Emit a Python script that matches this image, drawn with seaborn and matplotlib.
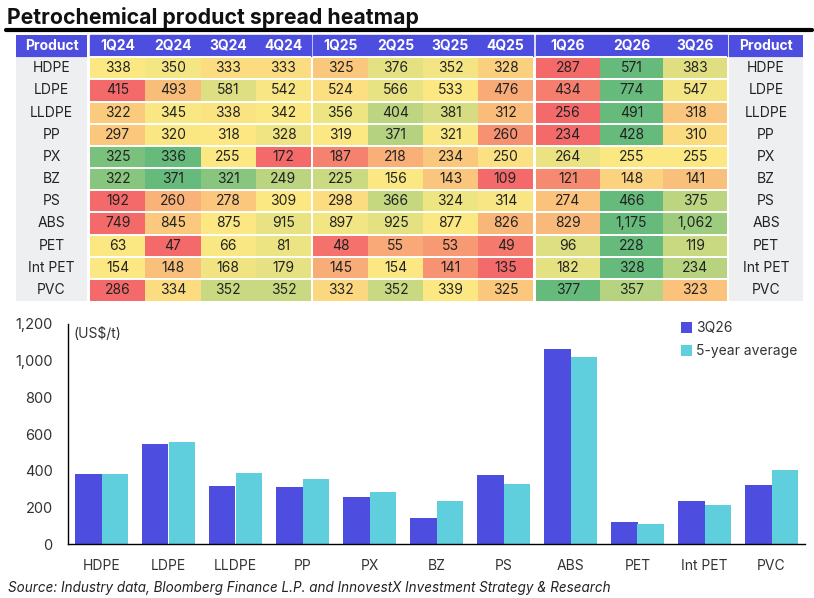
import numpy as np
import pandas as pd
import matplotlib
matplotlib.use("Agg")
import matplotlib.pyplot as plt
from matplotlib.colors import LinearSegmentedColormap
from matplotlib.patches import Rectangle
from matplotlib.ticker import FuncFormatter, FixedLocator
import seaborn as sns

# data
products = ["HDPE", "LDPE", "LLDPE", "PP", "PX", "BZ", "PS", "ABS", "PET", "Int PET", "PVC"]
quarters_24 = ["1Q24", "2Q24", "3Q24", "4Q24"]
quarters_25 = ["1Q25", "2Q25", "3Q25", "4Q25"]
quarters_26 = ["1Q26", "2Q26", "3Q26"]
spread_24 = [
    [338, 350, 333, 333], [415, 493, 581, 542], [322, 345, 338, 342], [297, 320, 318, 328],
    [325, 336, 255, 172], [322, 371, 321, 249], [192, 260, 278, 309], [749, 845, 875, 915],
    [63, 47, 66, 81], [154, 148, 168, 179], [286, 334, 352, 352],
]
spread_25 = [
    [325, 376, 352, 328], [524, 566, 533, 476], [356, 404, 381, 312], [319, 371, 321, 260],
    [187, 218, 234, 250], [225, 156, 143, 109], [298, 366, 324, 314], [897, 925, 877, 826],
    [48, 55, 53, 49], [145, 154, 141, 135], [332, 352, 339, 325],
]
spread_26 = [
    [287, 571, 383], [434, 774, 547], [256, 491, 318], [234, 428, 310],
    [264, 255, 255], [121, 148, 141], [274, 466, 375], [829, 1175, 1062],
    [96, 228, 119], [182, 328, 234], [377, 357, 323],
]
avg_5y = [382, 558, 385, 357, 282, 234, 328, 1020, 110, 212, 405]

BLUE = "#4D4DDF"
CYAN = "#5FCEDD"
GRAY_BG = "#EEEFF1"
TXT = "#222222"

sns.set_style("white")
plt.rcParams["font.family"] = ["Inter", "DejaVu Sans"]

W, H = 814, 598
fig = plt.figure(figsize=(W / 100, H / 100), dpi=100)


def px_axes(x0, y0, x1, y1):
    return fig.add_axes([x0 / W, 1 - y1 / H, (x1 - x0) / W, (y1 - y0) / H])


# per-row colour scaling: min -> red, median -> yellow, max -> green
full = np.hstack([np.array(spread_24), np.array(spread_25), np.array(spread_26)]).astype(float)
rmin = full.min(axis=1, keepdims=True)
rmax = full.max(axis=1, keepdims=True)
rmed = np.median(full, axis=1, keepdims=True)
low = 0.5 * (full - rmin) / np.where(rmed - rmin == 0, 1, rmed - rmin)
high = 0.5 + 0.5 * (full - rmed) / np.where(rmax - rmed == 0, 1, rmax - rmed)
scaled = np.where(full < rmed, low, high)
cmap = LinearSegmentedColormap.from_list("ryg", ["#F46A6A", "#FCE883", "#66BB7C"])

T_TOP, T_BOT = 35, 301
groups = [
    (quarters_24, 0, 90, 311),
    (quarters_25, 4, 313, 533),
    (quarters_26, 8, 536, 727),
]
for cols, start, x0, x1 in groups:
    ax = px_axes(x0, T_TOP, x1, T_BOT)
    vals = full[:, start:start + len(cols)]
    df = pd.DataFrame(scaled[:, start:start + len(cols)], index=products, columns=cols)
    labels = np.vectorize(lambda v: f"{int(v):,}")(vals)
    sns.heatmap(df, ax=ax, cmap=cmap, vmin=0, vmax=1, cbar=False, annot=labels, fmt="",
                annot_kws={"fontsize": 10, "color": TXT}, linewidths=0)
    ax.set_ylim(len(products), -1)
    ax.add_patch(Rectangle((0, -1), len(cols), 0.95, color=BLUE, clip_on=False))
    for j, q in enumerate(cols):
        ax.text(j + 0.5, -0.52, q, ha="center", va="center", color="white",
                fontsize=10, fontweight="bold")
    for r in range(len(products)):
        ax.axhline(r, color="white", lw=1.4)
    ax.set_xticks([])
    ax.set_yticks([])
    ax.set_xlabel("")
    ax.set_ylabel("")

for x0, x1 in [(16, 87), (729, 803)]:
    ax = px_axes(x0, T_TOP, x1, T_BOT)
    ax.set_xlim(0, 1)
    ax.set_ylim(len(products), -1)
    ax.add_patch(Rectangle((0, -1), 1, 0.95, color=BLUE))
    ax.add_patch(Rectangle((0, 0.03), 1, len(products), color=GRAY_BG))
    ax.text(0.5, -0.52, "Product", ha="center", va="center", color="white",
            fontsize=10, fontweight="bold")
    for r, p in enumerate(products):
        ax.text(0.5, r + 0.5, p, ha="center", va="center", color=TXT, fontsize=10)
    ax.axis("off")

# title and rule
fig.text(7 / W, 1 - 17 / H, "Petrochemical product spread heatmap", fontsize=15.3,
         fontweight="bold", ha="left", va="center", color="#111111")
fig.add_artist(plt.Line2D([6 / W, 812 / W], [1 - 30 / H, 1 - 30 / H], color="black", lw=3))

# bar chart
bx = px_axes(68, 324, 805, 544)
bars = pd.DataFrame({
    "product": products * 2,
    "value": [row[-1] for row in spread_26] + avg_5y,
    "series": ["3Q26"] * len(products) + ["5-year average"] * len(products),
})
sns.barplot(data=bars, x="product", y="value", hue="series", ax=bx,
            palette=[BLUE, CYAN], width=0.8, gap=0, saturation=1, edgecolor="none")
bx.set_ylim(0, 1200)
bx.set_xlim(-0.5, len(products) - 0.5)
bx.set_yticks(range(0, 1201, 200))
bx.yaxis.set_major_formatter(FuncFormatter(lambda v, _: f"{int(v):,}"))
bx.xaxis.set_minor_locator(FixedLocator(np.arange(-0.5, len(products), 1)))
bx.tick_params(axis="x", which="major", length=0, labelsize=10, labelcolor="#333333", pad=11)
bx.tick_params(axis="x", which="minor", length=5, width=1, color="black", direction="out")
bx.tick_params(axis="y", length=5, width=1, color="black", direction="out",
               labelsize=10.5, labelcolor="#333333", pad=6)
bx.set_xlabel("")
bx.set_ylabel("")
for s in ["top", "right"]:
    bx.spines[s].set_visible(False)
for s in ["left", "bottom"]:
    bx.spines[s].set_color("black")
    bx.spines[s].set_linewidth(1)
bx.text(0.007, 0.985, "(US$/t)", transform=bx.transAxes, ha="left", va="top",
        fontsize=10, color="#333333")
leg = bx.legend(loc="upper left", bbox_to_anchor=(0.815, 1.07), frameon=False, fontsize=10,
                handlelength=0.8, handleheight=0.8, handletextpad=0.3, labelspacing=0.65)
for t in leg.get_texts():
    t.set_color("#333333")

fig.text(8 / W, 1 - 588 / H,
         "Source: Industry data, Bloomberg Finance L.P. and InnovestX Investment Strategy & Research",
         fontsize=9.7, style="italic", ha="left", va="center", color="#222222")

fig.savefig("out.png", dpi=100)
